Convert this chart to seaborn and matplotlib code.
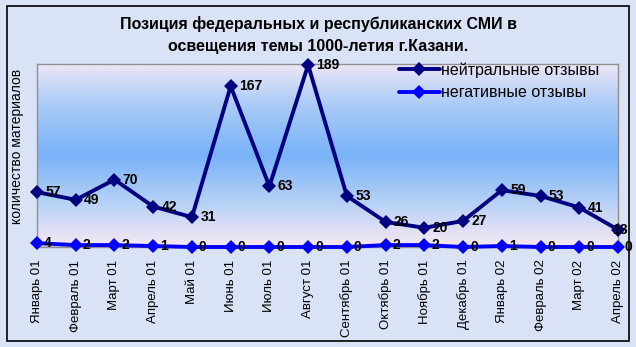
import numpy as np
import pandas as pd
import matplotlib
matplotlib.use("Agg")
import matplotlib.pyplot as plt
import seaborn as sns
from matplotlib.colors import LinearSegmentedColormap
from matplotlib.patches import Rectangle

months = ["Январь 01", "Февраль 01", "Март 01", "Апрель 01", "Май 01", "Июнь 01",
          "Июль 01", "Август 01", "Сентябрь 01", "Октябрь 01", "Ноябрь 01", "Декабрь 01",
          "Январь 02", "Февраль 02", "Март 02", "Апрель 02"]
neutral = [57, 49, 70, 42, 31, 167, 63, 189, 53, 26, 20, 27, 59, 53, 41, 18]
negative = [4, 2, 2, 1, 0, 0, 0, 0, 0, 2, 2, 0, 1, 0, 0, 0]
series_names = ["нейтральные отзывы", "негативные отзывы"]
title_lines = ["Позиция федеральных и республиканских СМИ в",
               "освещения темы 1000-летия г.Казани."]
ylabel = "количество материалов"

sns.set_theme(style="white")
plt.rcParams["font.family"] = ["Liberation Sans", "DejaVu Sans"]
plt.rcParams["text.color"] = "black"
plt.rcParams["axes.labelcolor"] = "black"
plt.rcParams["xtick.color"] = "black"

df = pd.DataFrame({
    "month": months * 2,
    "x": list(range(len(months))) * 2,
    "value": neutral + negative,
    "series": [series_names[0]] * len(months) + [series_names[1]] * len(months),
})

fig = plt.figure(figsize=(6.36, 3.47), dpi=100)
fig.patch.set_facecolor("#dae2f6")
fig.patches.append(Rectangle((7 / 636, 1 - 341 / 347), 622 / 636, 335 / 347,
                             transform=fig.transFigure, fill=False,
                             edgecolor="black", linewidth=1.2, zorder=10))

ax = fig.add_axes([37 / 636, 100 / 347, 581 / 636, 183 / 347])
ymax = 190
ax.set_xlim(0, len(months) - 1)
ax.set_ylim(0, ymax)

# gradient background of the plot area
cmap = LinearSegmentedColormap.from_list(
    "bg", [(0.0, "#f8e8f4"), (0.25, "#b4d0f6"), (0.5, "#78b2f8"), (0.78, "#acccf6"), (1.0, "#eee6f6")])
grad = np.linspace(0, 1, 256).reshape(-1, 1)
ax.imshow(grad, extent=[0, len(months) - 1, 0, ymax], aspect="auto", cmap=cmap,
          origin="lower", zorder=0)

palette = {series_names[0]: "#000080", series_names[1]: "#0000ff"}
sns.lineplot(data=df, x="x", y="value", hue="series", palette=palette, ax=ax,
             linewidth=2.8, marker="D", markersize=7, markeredgewidth=0,
             legend=True, zorder=3, clip_on=False)

last = len(months) - 1
for xi, v in enumerate(neutral):
    dx = 6 if xi < last else -4
    ax.annotate(str(v), (xi, v), xytext=(dx, 0), textcoords="offset points",
                ha="left", va="center", fontsize=10, fontweight="bold", color="black",
                annotation_clip=False, zorder=5)
for xi, v in enumerate(negative):
    ax.annotate(str(v), (xi, v), xytext=(5, 0), textcoords="offset points",
                ha="left", va="center", fontsize=10, fontweight="bold", color="black",
                annotation_clip=False, zorder=5)

ax.axhline(0, color="black", linewidth=1.0, zorder=2)

ax.set_xticks(range(len(months)))
ax.set_xticklabels(months, rotation=90, fontsize=9.5, color="black")
ax.tick_params(axis="x", length=0, pad=9)
ax.set_yticks([])
ax.set_xlabel("")
ax.set_ylabel(ylabel, fontsize=10, color="black")
ax.yaxis.set_label_coords(-13 / 581, 0.55)

for side in ["top", "right", "left", "bottom"]:
    ax.spines[side].set_visible(True)
    ax.spines[side].set_color("#909090")
    ax.spines[side].set_linewidth(1.0)

leg = ax.legend(loc="upper left", bbox_to_anchor=(352 / 581, 1 + 11 / 183), frameon=False,
                fontsize=11.5, handlelength=2.6, handletextpad=0.05, labelspacing=0.45,
                borderaxespad=0.2)
for t in leg.get_texts():
    t.set_color("black")

fig.text(0.5, 1 - 24 / 347, title_lines[0], ha="center", va="center",
         fontsize=11.5, fontweight="bold", color="black")
fig.text(0.5, 1 - 47 / 347, title_lines[1], ha="center", va="center",
         fontsize=11.5, fontweight="bold", color="black")

fig.savefig("out.png", dpi=100, facecolor=fig.get_facecolor())
